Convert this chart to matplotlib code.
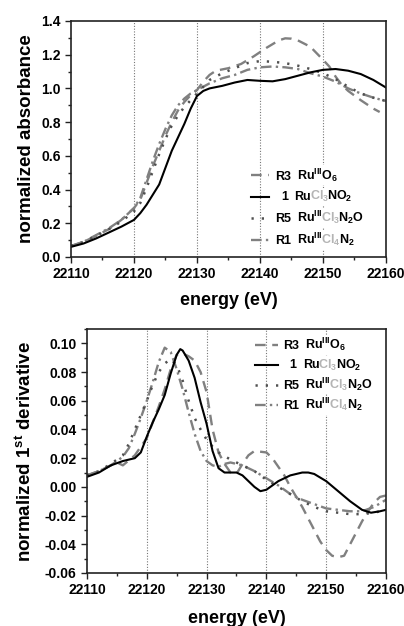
import matplotlib
matplotlib.use('Agg')
import matplotlib.pyplot as plt
from matplotlib.lines import Line2D
from matplotlib.ticker import MultipleLocator
from matplotlib.offsetbox import (AnchoredOffsetbox, DrawingArea, HPacker,
                                  VPacker, TextArea, PaddedBox)

plt.rcParams['font.family'] = ['Liberation Sans', 'DejaVu Sans']
plt.rcParams['font.weight'] = 'bold'
plt.rcParams['mathtext.fontset'] = 'custom'
plt.rcParams['mathtext.bf'] = 'Liberation Sans:bold'
plt.rcParams['mathtext.rm'] = 'Liberation Sans:bold'
plt.rcParams['mathtext.default'] = 'bf'

# ---- top panel: normalized absorbance ----
e1_abs = [22110, 22112, 22114, 22116, 22118, 22120, 22121, 22122, 22123, 22124,
          22125, 22126, 22127, 22128, 22129, 22130, 22131, 22132, 22134, 22136,
          22138, 22140, 22142, 22144, 22146, 22148, 22150, 22152, 22154, 22156,
          22158, 22160]
a1_abs = [0.06, 0.08, 0.11, 0.145, 0.18, 0.22, 0.26, 0.31, 0.37, 0.43,
          0.53, 0.63, 0.71, 0.79, 0.88, 0.955, 0.985, 1.0, 1.015, 1.035,
          1.05, 1.045, 1.042, 1.055, 1.075, 1.095, 1.11, 1.115, 1.105, 1.085,
          1.05, 1.005]

eR3_abs = [22110, 22112, 22114, 22116, 22118, 22120, 22121, 22122, 22123, 22124,
           22125, 22126, 22127, 22128, 22129, 22130, 22131, 22132, 22133, 22135,
           22137, 22139, 22141, 22143, 22144, 22145, 22146, 22148, 22150, 22151,
           22152, 22153, 22154, 22156, 22158, 22159]
aR3_abs = [0.065, 0.09, 0.125, 0.165, 0.22, 0.29, 0.34, 0.44, 0.54, 0.63,
           0.72, 0.80, 0.87, 0.92, 0.96, 0.99, 1.04, 1.08, 1.105, 1.12,
           1.145, 1.19, 1.24, 1.285, 1.297, 1.295, 1.285, 1.247, 1.17, 1.13,
           1.07, 1.02, 0.985, 0.93, 0.88, 0.86]

eR5_abs = [22110, 22112, 22114, 22116, 22118, 22120, 22121, 22122, 22123, 22124,
           22125, 22126, 22127, 22128, 22129, 22130, 22131, 22132, 22134, 22136,
           22138, 22140, 22142, 22144, 22146, 22148, 22150, 22152, 22154, 22156,
           22158, 22160]
aR5_abs = [0.065, 0.09, 0.125, 0.165, 0.21, 0.27, 0.32, 0.41, 0.51, 0.61,
           0.70, 0.78, 0.84, 0.89, 0.93, 0.97, 1.01, 1.05, 1.09, 1.12,
           1.15, 1.162, 1.158, 1.15, 1.135, 1.115, 1.09, 1.055, 1.01, 0.97,
           0.945, 0.925]

eR1_abs = [22110, 22112, 22114, 22116, 22118, 22120, 22121, 22122, 22123, 22124,
           22125, 22126, 22127, 22128, 22129, 22130, 22132, 22134, 22136, 22138,
           22140, 22142, 22144, 22146, 22148, 22150, 22152, 22154, 22156, 22158,
           22160]
aR1_abs = [0.065, 0.09, 0.13, 0.17, 0.22, 0.29, 0.35, 0.46, 0.57, 0.67,
           0.76, 0.84, 0.90, 0.94, 0.97, 0.99, 1.03, 1.06, 1.08, 1.11,
           1.125, 1.13, 1.125, 1.115, 1.09, 1.07, 1.04, 1.0, 0.97, 0.945,
           0.925]

# ---- bottom panel: first derivative ----
e1_der = [22110, 22112, 22114, 22116, 22118, 22119, 22120, 22121, 22122, 22123,
          22124, 22125, 22125.6, 22126, 22127, 22128, 22129, 22130, 22131, 22132,
          22133, 22134, 22135, 22136, 22137, 22138, 22139, 22140, 22141, 22142,
          22144, 22146, 22147, 22148, 22150, 22152, 22154, 22156, 22157.5, 22159,
          22160]
d1_der = [0.007, 0.010, 0.015, 0.018, 0.020, 0.024, 0.035, 0.045, 0.054, 0.064,
          0.079, 0.092, 0.096, 0.095, 0.088, 0.076, 0.059, 0.044, 0.025, 0.013,
          0.010, 0.010, 0.010, 0.008, 0.004, 0.000, -0.003, -0.002, 0.001, 0.004,
          0.008, 0.010, 0.010, 0.009, 0.004, -0.003, -0.010, -0.016, -0.018, -0.017,
          -0.016]

eR3_der = [22110, 22112, 22114, 22115, 22116, 22118, 22120, 22121, 22122, 22123,
           22124, 22125, 22126, 22127, 22128, 22129, 22130, 22131, 22132, 22133,
           22134, 22135, 22136, 22137, 22138, 22140, 22141, 22142, 22143, 22144,
           22145, 22146, 22147, 22148, 22149, 22150, 22151, 22152, 22153, 22154,
           22155, 22156, 22157, 22158, 22159, 22160]
dR3_der = [0.008, 0.011, 0.015, 0.017, 0.015, 0.022, 0.034, 0.045, 0.056, 0.068,
           0.082, 0.092, 0.093, 0.091, 0.088, 0.080, 0.066, 0.040, 0.024, 0.016,
           0.010, 0.009, 0.016, 0.022, 0.025, 0.024, 0.020, 0.014, 0.008, 0.000,
           -0.007, -0.014, -0.022, -0.030, -0.038, -0.044, -0.048, -0.049, -0.048, -0.040,
           -0.032, -0.024, -0.017, -0.011, -0.007, -0.006]

eR5_der = [22110, 22112, 22114, 22116, 22117, 22118, 22119, 22120, 22121, 22122,
           22123, 22124, 22125, 22126, 22127, 22128, 22129, 22130, 22131, 22132,
           22134, 22136, 22138, 22140, 22142, 22144, 22146, 22148, 22150, 22152,
           22154, 22156, 22158, 22160]
dR5_der = [0.008, 0.011, 0.016, 0.022, 0.030, 0.040, 0.050, 0.060, 0.071, 0.080,
           0.086, 0.089, 0.085, 0.074, 0.060, 0.048, 0.040, 0.033, 0.028, 0.024,
           0.019, 0.015, 0.011, 0.005, 0.000, -0.005, -0.010, -0.014, -0.017, -0.018,
           -0.019, -0.019, -0.018, -0.016]

eR1_der = [22110, 22112, 22114, 22116, 22117, 22118, 22119, 22120, 22121, 22122,
           22123, 22124, 22125, 22126, 22127, 22128, 22129, 22130, 22131, 22132,
           22133, 22134, 22136, 22138, 22140, 22142, 22144, 22146, 22148, 22150,
           22152, 22154, 22156, 22158, 22160]
dR1_der = [0.008, 0.011, 0.015, 0.021, 0.027, 0.037, 0.048, 0.060, 0.073, 0.087,
           0.097, 0.094, 0.082, 0.068, 0.052, 0.037, 0.025, 0.018, 0.015, 0.014,
           0.016, 0.017, 0.015, 0.011, 0.006, 0.001, -0.005, -0.009, -0.012, -0.015,
           -0.016, -0.017, -0.017, -0.014, -0.009]

xticks = [22110, 22120, 22130, 22140, 22150, 22160]
grid_x = [22120, 22130, 22140, 22150]

styles = {
    'R3': dict(color='#808080', lw=1.7, dashes=(4.5, 2.8)),
    '1': dict(color='black', lw=1.5, linestyle='-'),
    'R5': dict(color='#505050', lw=1.8, dashes=(0.9, 3.2)),
    'R1': dict(color='#808080', lw=1.7, dashes=(4.5, 1.8, 1, 1.8)),
}
GRAY = '#b4b4b4'
labels = [
    ('R3', 'R3', [('Ru$^{III}$O$_6$', 'k')]),
    ('1', '  1', [('Ru', 'k'), ('Cl$_3$', GRAY), ('NO$_2$', 'k')]),
    ('R5', 'R5', [('Ru$^{III}$', 'k'), ('Cl$_3$', GRAY), ('N$_2$O', 'k')]),
    ('R1', 'R1', [('Ru$^{III}$', 'k'), ('Cl$_4$', GRAY), ('N$_2$', 'k')]),
]


def add_legend(ax, anchor, handle_w, sep):
    rows = []
    tp = dict(fontsize=9, fontweight='bold')
    for key, tag, parts in labels:
        da = DrawingArea(handle_w, 8, 0, 0)
        da.add_artist(Line2D([0, handle_w], [4, 4], **styles[key]))
        tag_box = TextArea(tag, textprops=dict(color='k', **tp))
        txt_box = HPacker(children=[TextArea(s, textprops=dict(color=c, **tp)) for s, c in parts],
                          align='baseline', pad=0, sep=-1)
        both = HPacker(children=[tag_box, txt_box], align='baseline', pad=0, sep=4)
        both = PaddedBox(both, pad=1, draw_frame=True,
                         patch_attrs=dict(facecolor='white', edgecolor='none'))
        rows.append(HPacker(children=[da, both], align='center', pad=0, sep=3))
    box = VPacker(children=rows, align='left', pad=0, sep=sep)
    loc = 'upper left' if anchor[1] > 0.5 else 'lower left'
    ab = AnchoredOffsetbox(loc=loc, child=box, frameon=False, borderpad=0,
                           bbox_to_anchor=anchor, bbox_transform=ax.transAxes)
    ax.add_artist(ab)


def style_axes(ax):
    for s in ax.spines.values():
        s.set_linewidth(1.2)
        s.set_color('#222222')
    ax.tick_params(which='both', direction='out', top=False, right=False,
                   labelsize=10, width=1.0, color='#222222')
    ax.tick_params(which='major', length=4)
    ax.tick_params(which='minor', length=2.5)
    ax.set_xlim(22110, 22160)
    ax.set_xticks(xticks)
    ax.xaxis.set_minor_locator(MultipleLocator(5))
    for g in grid_x:
        ax.axvline(g, color='#777777', lw=0.8, ls=(0, (1, 1.5)), zorder=0)


fig = plt.figure(figsize=(4.04, 6.26), dpi=100)

ax1 = fig.add_axes([0.1757, 0.5895, 0.7797, 0.377])
ax1.plot(eR3_abs, aR3_abs, **styles['R3'])
ax1.plot(eR1_abs, aR1_abs, **styles['R1'])
ax1.plot(eR5_abs, aR5_abs, **styles['R5'])
ax1.plot(e1_abs, a1_abs, **styles['1'])
style_axes(ax1)
ax1.set_ylim(0, 1.4)
ax1.yaxis.set_major_locator(MultipleLocator(0.2))
ax1.yaxis.set_minor_locator(MultipleLocator(0.1))
ax1.yaxis.set_major_formatter(lambda v, p: f'{v:.1f}')
ax1.set_ylabel('normalized absorbance', fontsize=13.5, fontweight='bold')
ax1.set_xlabel('energy (eV)', fontsize=13, fontweight='bold')
ax1.yaxis.set_label_coords(-0.115, 0.5)
ax1.xaxis.set_label_coords(0.5, -0.15)
add_legend(ax1, (0.555, 0.008), 13, 2)

ax2 = fig.add_axes([0.2153, 0.0847, 0.7401, 0.3897])
ax2.plot(eR3_der, dR3_der, **styles['R3'])
ax2.plot(eR1_der, dR1_der, **styles['R1'])
ax2.plot(eR5_der, dR5_der, **styles['R5'])
ax2.plot(e1_der, d1_der, **styles['1'])
style_axes(ax2)
ax2.set_ylim(-0.06, 0.11)
ax2.set_yticks([-0.06, -0.04, -0.02, 0.0, 0.02, 0.04, 0.06, 0.08, 0.10])
ax2.yaxis.set_minor_locator(MultipleLocator(0.01))
ax2.yaxis.set_major_formatter(lambda v, p: f'{v:.2f}')
ax2.set_ylabel('normalized 1$^{st}$ derivative', fontsize=13.5, fontweight='bold')
ax2.set_xlabel('energy (eV)', fontsize=13, fontweight='bold')
ax2.yaxis.set_label_coords(-0.175, 0.5)
ax2.xaxis.set_label_coords(0.5, -0.15)
add_legend(ax2, (0.545, 1.0), 16, 1)

for ax in (ax1, ax2):
    plt.setp(ax.get_xticklabels() + ax.get_yticklabels(), fontweight='bold')

fig.savefig('out.png', dpi=100)
